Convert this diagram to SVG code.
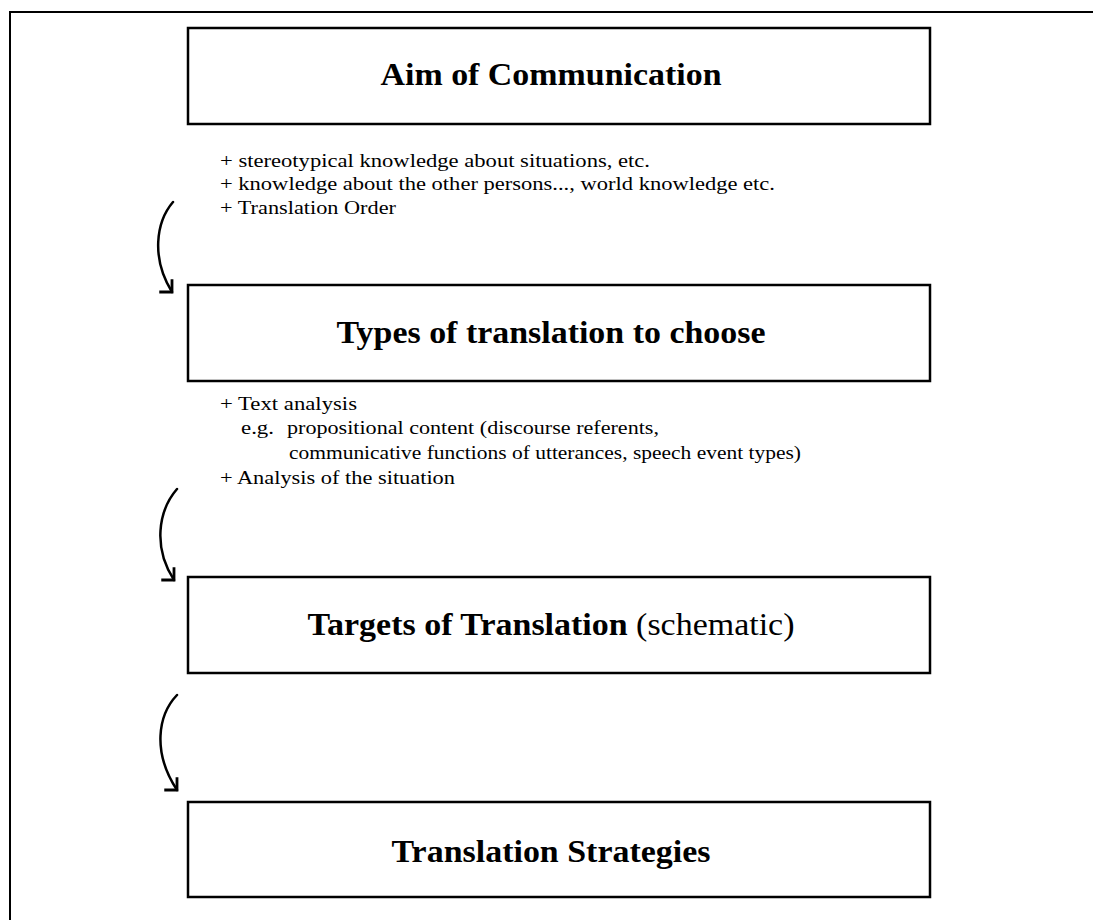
<svg xmlns="http://www.w3.org/2000/svg" width="1093" height="920" viewBox="0 0 1093 920">
<style>
.frame{fill:none;stroke:#000;stroke-width:2}
.box{fill:#fff;stroke:#000;stroke-width:2.5}
.title{font-family:"Liberation Serif","Times New Roman",serif;font-weight:bold;font-size:31px;fill:#000;text-anchor:middle}
.title .n{font-weight:normal}
.note{font-family:"Liberation Serif","Times New Roman",serif;font-size:18.5px;fill:#000}
.arc{fill:none;stroke:#000;stroke-width:2.5;stroke-linecap:round}
</style>
<defs>
<marker id="hook" markerUnits="userSpaceOnUse" markerWidth="30" markerHeight="30" viewBox="-15 -15 30 30" refX="0" refY="0" orient="45">
<path d="M-9,-9 L0,0 L-9,9" fill="none" stroke="#000" stroke-width="2.8" stroke-linejoin="miter"/>
</marker>
</defs>
<rect width="1093" height="920" fill="#fff"/>
<path class="frame" d="M10,920 L10,12 L1093,12"/>
<g id="node-aim">
<rect class="box" x="188" y="28" width="742" height="96"/>
<text class="title" x="551" y="85" textLength="341" lengthAdjust="spacingAndGlyphs">Aim of Communication</text>
</g>
<g id="notes-aim" class="note">
<text x="220" y="167" textLength="430" lengthAdjust="spacingAndGlyphs">+ stereotypical knowledge about situations, etc.</text>
<text x="220" y="190" textLength="555" lengthAdjust="spacingAndGlyphs">+ knowledge about the other persons..., world knowledge etc.</text>
<text x="220" y="214" textLength="176" lengthAdjust="spacingAndGlyphs">+ Translation Order</text>
</g>
<g id="node-types">
<rect class="box" x="188" y="285" width="742" height="96"/>
<text class="title" x="551" y="343" textLength="429" lengthAdjust="spacingAndGlyphs">Types of translation to choose</text>
</g>
<g id="notes-types" class="note">
<text x="220" y="410" textLength="137" lengthAdjust="spacingAndGlyphs">+ Text analysis</text>
<text x="241" y="434" textLength="33" lengthAdjust="spacingAndGlyphs">e.g.</text>
<text x="287" y="434" textLength="372" lengthAdjust="spacingAndGlyphs">propositional content (discourse referents,</text>
<text x="289" y="459" textLength="512" lengthAdjust="spacingAndGlyphs">communicative functions of utterances, speech event types)</text>
<text x="220" y="484" textLength="235" lengthAdjust="spacingAndGlyphs">+ Analysis of the situation</text>
</g>
<g id="node-targets">
<rect class="box" x="188" y="577" width="742" height="96"/>
<text class="title" x="551" y="635" textLength="487" lengthAdjust="spacingAndGlyphs">Targets of Translation <tspan class="n">(schematic)</tspan></text>
</g>
<g id="node-strategies">
<rect class="box" x="188" y="802" width="742" height="95"/>
<text class="title" x="551" y="862" textLength="319" lengthAdjust="spacingAndGlyphs">Translation Strategies</text>
</g>
<g id="connectors">
<path class="arc" marker-end="url(#hook)" d="M173,202 C156,222 151,258 172,292"/>
<path class="arc" marker-end="url(#hook)" d="M177,489 C158,511 153,548 174,580"/>
<path class="arc" marker-end="url(#hook)" d="M177,695 C158,715 152,752 177,790"/>
</g>
</svg>
